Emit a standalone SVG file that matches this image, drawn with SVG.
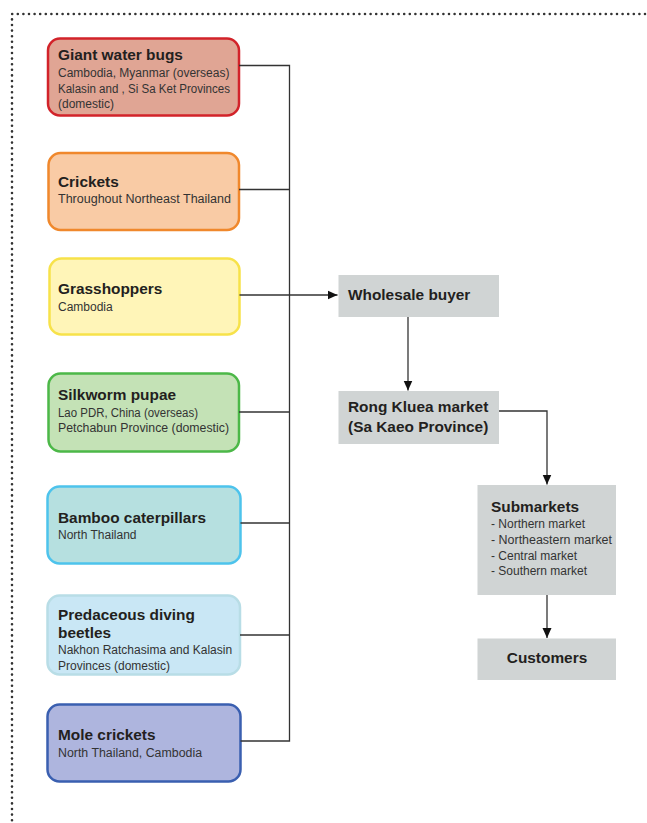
<svg xmlns="http://www.w3.org/2000/svg" width="647" height="823" viewBox="0 0 647 823">
<style>
.t{font-family:"Liberation Sans",Arial,sans-serif;font-weight:bold;font-size:15.4px;fill:#231f20}
.s{font-family:"Liberation Sans",Arial,sans-serif;font-size:12px;fill:#333}
.bx{stroke-width:2.5}
.g{fill:#d0d4d4}
.c{fill:none;stroke:#333;stroke-width:1.3}
.dot{fill:none;stroke:#333;stroke-width:2.6;stroke-linecap:round;stroke-dasharray:0 5.6}
</style>
<defs>
<marker id="ah" markerWidth="11" markerHeight="11" refX="10" refY="5.5" orient="auto" markerUnits="userSpaceOnUse">
<path d="M0,1 L10,5.5 L0,10 Z" fill="#111"/>
</marker>
</defs>
<path class="dot" d="M645,14 L12,14 L12,823"/>
<g id="giant-water-bugs">
<rect class="bx" x="48" y="38.5" width="191" height="77" rx="12" fill="#e0a594" stroke="#d2232a"/>
<text class="t" x="58" y="60">Giant water bugs</text>
<text class="s" x="58" y="77">Cambodia, Myanmar (overseas)</text>
<text class="s" x="58" y="93" textLength="172" lengthAdjust="spacingAndGlyphs">Kalasin and , Si Sa Ket Provinces</text>
<text class="s" x="58" y="108">(domestic)</text>
</g>
<g id="crickets">
<rect class="bx" x="48.5" y="153" width="190.5" height="77" rx="12" fill="#f9cba5" stroke="#f0882c"/>
<text class="t" x="58" y="187">Crickets</text>
<text class="s" x="58" y="203" textLength="173" lengthAdjust="spacingAndGlyphs">Throughout Northeast Thailand</text>
</g>
<g id="grasshoppers">
<rect class="bx" x="49.5" y="258.5" width="190" height="76" rx="12" fill="#fff5b8" stroke="#f7e24a"/>
<text class="t" x="58" y="294">Grasshoppers</text>
<text class="s" x="58" y="311">Cambodia</text>
</g>
<g id="silkworm-pupae">
<rect class="bx" x="48.5" y="373.5" width="190.5" height="78" rx="12" fill="#c4e2b6" stroke="#4cb848"/>
<text class="t" x="58" y="400">Silkworm pupae</text>
<text class="s" x="58" y="417" textLength="140" lengthAdjust="spacingAndGlyphs">Lao PDR, China (overseas)</text>
<text class="s" x="58" y="432" textLength="171" lengthAdjust="spacingAndGlyphs">Petchabun Province (domestic)</text>
</g>
<g id="bamboo-caterpillars">
<rect class="bx" x="47.5" y="486.5" width="193" height="77" rx="12" fill="#b6e0e0" stroke="#4dc3ec"/>
<text class="t" x="58" y="523">Bamboo caterpillars</text>
<text class="s" x="58" y="539">North Thailand</text>
</g>
<g id="predaceous-diving-beetles">
<rect class="bx" x="47.5" y="595.5" width="192.5" height="79" rx="12" fill="#c9e7f5" stroke="#b8dde6"/>
<text class="t" x="58" y="620">Predaceous diving</text>
<text class="t" x="58" y="638">beetles</text>
<text class="s" x="58" y="654">Nakhon Ratchasima and Kalasin</text>
<text class="s" x="58" y="670">Provinces (domestic)</text>
</g>
<g id="mole-crickets">
<rect class="bx" x="47.5" y="704.5" width="193" height="77" rx="12" fill="#aeb5de" stroke="#3a5fb0"/>
<text class="t" x="58" y="740">Mole crickets</text>
<text class="s" x="58" y="757" textLength="144" lengthAdjust="spacingAndGlyphs">North Thailand, Cambodia</text>
</g>
<g id="wholesale-buyer">
<rect class="g" x="338.5" y="275" width="160.5" height="42"/>
<text class="t" x="348" y="300">Wholesale buyer</text>
</g>
<g id="rong-kluea-market">
<rect class="g" x="338.5" y="391" width="160.5" height="53"/>
<text class="t" x="348" y="412">Rong Kluea market</text>
<text class="t" x="348" y="432">(Sa Kaeo Province)</text>
</g>
<g id="submarkets">
<rect class="g" x="477.5" y="485" width="138.5" height="110"/>
<text class="t" x="491" y="512">Submarkets</text>
<text class="s" x="491" y="527.5">- Northern market</text>
<text class="s" x="491" y="543.5" textLength="121" lengthAdjust="spacingAndGlyphs">- Northeastern market</text>
<text class="s" x="491" y="559.5">- Central market</text>
<text class="s" x="491" y="575">- Southern market</text>
</g>
<g id="customers">
<rect class="g" x="477.5" y="638.5" width="138.5" height="41.5"/>
<text class="t" x="547" y="663" text-anchor="middle">Customers</text>
</g>
<g id="connectors">
<path class="c" d="M239,65.5 H289.5 V741 H240.5"/>
<path class="c" d="M239,189.5 H289.5"/>
<path class="c" d="M239,412 H289.5"/>
<path class="c" d="M240.5,523 H289.5"/>
<path class="c" d="M240,635 H289.5"/>
<path class="c" d="M239.5,295 H337.5" marker-end="url(#ah)"/>
<path class="c" d="M408,317 V390.5" marker-end="url(#ah)"/>
<path class="c" d="M499,411 H547 V484.5" marker-end="url(#ah)"/>
<path class="c" d="M547,595 V638" marker-end="url(#ah)"/>
</g>
</svg>
